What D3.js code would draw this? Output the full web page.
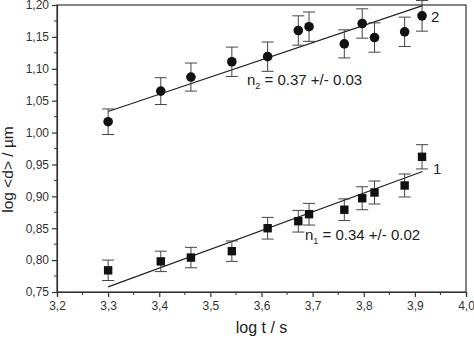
<!DOCTYPE html>
<html><head><meta charset="utf-8">
<script src="https://cdn.jsdelivr.net/npm/d3@7"></script>
<style>body{margin:0;background:#fff}svg{display:block}</style>
</head><body>
<svg id="c" width="474" height="339"></svg>
<script>
const xVals = [3.30, 3.403, 3.462, 3.542, 3.612, 3.672, 3.693, 3.762, 3.797, 3.821, 3.880, 3.914];
const s2 = [1.017, 1.065, 1.087, 1.111, 1.119, 1.160, 1.166, 1.139, 1.171, 1.149, 1.158, 1.183];
const e2 = [0.020, 0.021, 0.022, 0.023, 0.023, 0.023, 0.023, 0.022, 0.023, 0.023, 0.023, 0.024];
const s1 = [0.784, 0.798, 0.804, 0.814, 0.850, 0.861, 0.872, 0.879, 0.897, 0.906, 0.917, 0.962];
const e1 = [0.016, 0.016, 0.016, 0.016, 0.017, 0.017, 0.017, 0.017, 0.018, 0.018, 0.018, 0.019];
const fitX = [3.30, 3.915];
const fit1 = [0.758, 0.939];
const fit2 = [1.033, 1.199];
const xTicks = [3.2, 3.3, 3.4, 3.5, 3.6, 3.7, 3.8, 3.9, 4.0];
const yTicks = [0.75, 0.80, 0.85, 0.90, 0.95, 1.00, 1.05, 1.10, 1.15, 1.20];

const L = 57, R = 466, T = 5, B = 292;
const svg = d3.select("#c");
const x = d3.scaleLinear().domain([3.2, 4.0]).range([L, R]);
const y = d3.scaleLinear().domain([0.75, 1.20]).range([B, T]);
const font = "Liberation Sans, Arial, sans-serif";
const fmt = d => d3.format(".1f")(d).replace(".", ",");
const fmtY = d => d3.format(".2f")(d).replace(".", ",");

// frame
svg.append("rect").attr("x", L).attr("y", T).attr("width", R - L).attr("height", B - T)
  .attr("fill", "none").attr("stroke", "#333").attr("stroke-width", 1.2);

// x axis
const xAxis = d3.axisBottom(x).tickValues(xTicks).tickFormat(fmt).tickSize(5).tickPadding(4);
const gx = svg.append("g").attr("transform", `translate(0,${B})`).call(xAxis);
const xMinor = d3.range(3.25, 4.0, 0.1);
gx.selectAll(".minor").data(xMinor).enter().append("line").attr("class", "minor")
  .attr("x1", d => x(d)).attr("x2", d => x(d)).attr("y1", 0).attr("y2", 3).attr("stroke", "#333");
// y axis
const yAxis = d3.axisLeft(y).tickValues(yTicks).tickFormat(fmtY).tickSize(5).tickPadding(3);
const gy = svg.append("g").attr("transform", `translate(${L},0)`).call(yAxis);
const yMinor = d3.range(0.775, 1.2, 0.05);
gy.selectAll(".minor").data(yMinor).enter().append("line").attr("class", "minor")
  .attr("y1", d => y(d)).attr("y2", d => y(d)).attr("x1", 0).attr("x2", -3).attr("stroke", "#333");
[gx, gy].forEach(g => {
  g.select(".domain").attr("stroke", "#333").attr("stroke-width", 1.2);
  g.selectAll(".tick line").attr("stroke", "#333").attr("stroke-width", 1.2);
  g.selectAll("text").attr("font-family", font).attr("font-size", 12).attr("fill", "#333");
});

// axis labels
svg.append("text").attr("x", (L + R) / 2).attr("y", 333).attr("text-anchor", "middle")
  .attr("font-family", font).attr("font-size", 16).attr("fill", "#222").text("log t / s");
svg.append("text").attr("transform", `translate(13,${(T + B) / 2 + 21}) rotate(-90)`)
  .attr("text-anchor", "middle").attr("font-family", font).attr("font-size", 15.5).attr("fill", "#222")
  .text("log <d> / µm");

// fit lines
const line = d3.line().x(d => x(d[0])).y(d => y(d[1]));
[fit1, fit2].forEach(f => {
  svg.append("path").datum(fitX.map((v, i) => [v, f[i]])).attr("d", line)
    .attr("fill", "none").attr("stroke", "#222").attr("stroke-width", 1.2);
});

// error bars
function errBars(vals, errs) {
  const g = svg.append("g").attr("stroke", "#444").attr("stroke-width", 1);
  vals.forEach((v, i) => {
    const cx = x(xVals[i]);
    g.append("line").attr("x1", cx).attr("x2", cx).attr("y1", y(v - errs[i])).attr("y2", y(v + errs[i]));
    [v - errs[i], v + errs[i]].forEach(e => {
      g.append("line").attr("x1", cx - 6).attr("x2", cx + 6).attr("y1", y(e)).attr("y2", y(e));
    });
  });
}
errBars(s2, e2);
errBars(s1, e1);

// markers
svg.append("g").selectAll("circle").data(s2).enter().append("circle")
  .attr("cx", (d, i) => x(xVals[i])).attr("cy", d => y(d)).attr("r", 4.8).attr("fill", "#111");
svg.append("g").selectAll("rect").data(s1).enter().append("rect")
  .attr("x", (d, i) => x(xVals[i]) - 4.2).attr("y", d => y(d) - 4.2)
  .attr("width", 8.4).attr("height", 8.4).attr("fill", "#111");

// series labels
svg.append("text").attr("x", 431).attr("y", 22).attr("font-family", font).attr("font-size", 15).attr("fill", "#222").text("2");
svg.append("text").attr("x", 433).attr("y", 174).attr("font-family", font).attr("font-size", 15).attr("fill", "#222").text("1");

// annotations
function ann(xp, yp, sub, rest) {
  const t = svg.append("text").attr("x", xp).attr("y", yp).attr("font-family", font).attr("font-size", 15).attr("fill", "#222");
  t.append("tspan").text("n");
  t.append("tspan").attr("font-size", 9).attr("dy", 4).text(sub);
  t.append("tspan").attr("dy", -4).text(" = " + rest);
}
ann(247, 85, "2", "0.37 +/- 0.03");
ann(305, 240, "1", "0.34 +/- 0.02");
</script>
</body></html>
